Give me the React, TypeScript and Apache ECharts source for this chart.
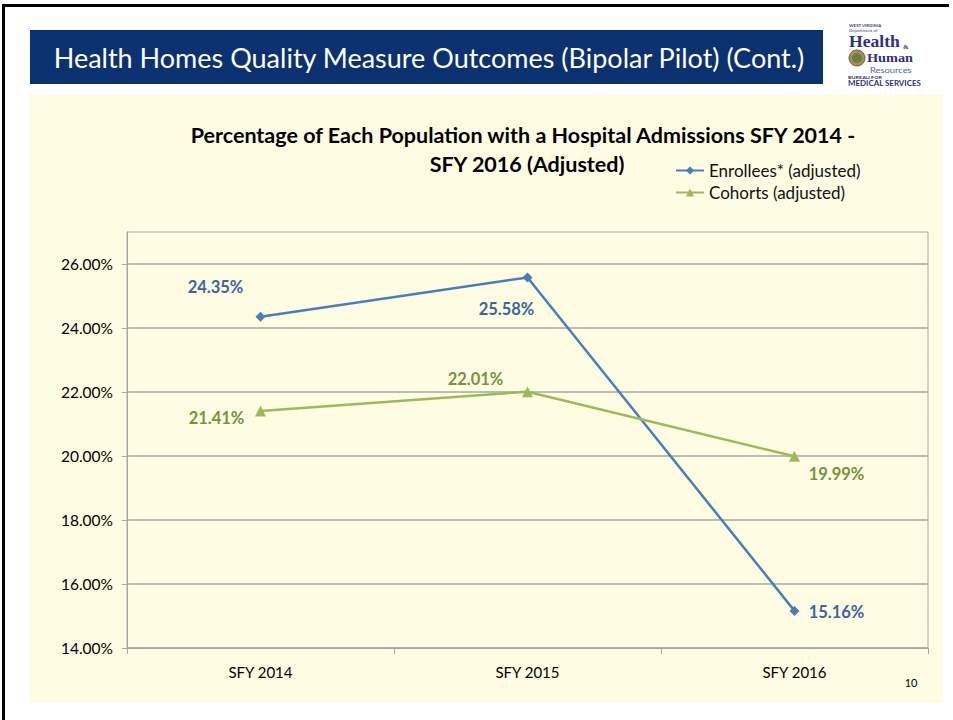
import React, { useEffect, useRef } from "react";
import * as echarts from "echarts";

const categories = ["SFY 2014", "SFY 2015", "SFY 2016"];
const enrollees = [24.35, 25.58, 15.16];
const cohorts = [21.41, 22.01, 19.99];
const seriesNames = ["Enrollees* (adjusted)", "Cohorts (adjusted)"];
const yTicks = [14, 16, 18, 20, 22, 24, 26];
const slideTitle = "Health Homes Quality Measure Outcomes (Bipolar Pilot) (Cont.)";
const chartTitleLines = [
  "Percentage of Each Population with a Hospital Admissions SFY 2014 -",
  "SFY 2016 (Adjusted)",
];
const pageNumber = "10";

const FONT = "Lato, 'Noto Sans', sans-serif";
const SERIF = "'Liberation Serif', 'DejaVu Serif', serif";

export default function App() {
  const ref = useRef<HTMLDivElement>(null);

  useEffect(() => {
    if (!ref.current) return;
    const chart = echarts.init(ref.current, undefined, { renderer: "svg" });

    const blueLine = "#4A7EBB";
    const blueLabel = "#3A65A0";
    const greenLine = "#9BBB59";
    const greenLabel = "#77933C";
    const grid = "#A6A6A6";
    const navy = "#2E3180";

    const enrOffsets = [[-45, -30], [-21, 32], [42, 1]];
    const cohOffsets = [[-44, 7], [-52, -13], [42, 18]];

    const logoLine = (text: string, x: number, y: number, font: string, fill: string, scaleX = 1) => ({
      type: "text",
      x,
      y,
      scaleX,
      z: 2,
      style: { text, fill, font, textVerticalAlign: "middle" },
    });

    const option: any = {
      animation: false,
      backgroundColor: "#ffffff",
      textStyle: { fontFamily: FONT },
      graphic: [
        // page frame
        { type: "rect", shape: { x: 2, y: 4, width: 947, height: 3 }, style: { fill: "#000" }, z: 0 },
        { type: "rect", shape: { x: 2, y: 4, width: 3, height: 716 }, style: { fill: "#000" }, z: 0 },
        // yellow panel
        { type: "rect", shape: { x: 30, y: 95, width: 913, height: 608 }, style: { fill: "#FEFDE3" }, z: -10 },
        // banner
        { type: "rect", shape: { x: 30, y: 30, width: 793, height: 54 }, style: { fill: "#0C3170" }, z: 0 },
        {
          type: "text", x: 429, y: 57, z: 1,
          style: { text: slideTitle, fill: "#ffffff", font: `27px ${FONT}`, textAlign: "center", textVerticalAlign: "middle" },
        },
        // logo seal
        { type: "circle", shape: { cx: 857, cy: 58, r: 8 }, style: { fill: "#A88E55", stroke: "#7a6638", lineWidth: 1 } },
        { type: "circle", shape: { cx: 857, cy: 58, r: 5 }, style: { fill: "#6B7F45" } },
        // logo text
        logoLine("WEST VIRGINIA", 849, 26, `bold 4px ${FONT}`, "#3b3f85", 1.1),
        logoLine("Department of", 849, 30.8, `4px ${FONT}`, "#3b3f85", 1.1),
        logoLine("Health", 849, 41.9, `bold 16px ${SERIF}`, navy, 1.1),
        { type: "text", x: 903, y: 47, z: 2, style: { text: "&", fill: navy, font: `bold 7px ${SERIF}`, textVerticalAlign: "middle" } },
        logoLine("Human", 867, 58, `bold 13px ${SERIF}`, navy, 1.1),
        logoLine("Resources", 870, 69.9, `7.5px ${FONT}`, "#5A5FA8", 1.25),
        logoLine("BUREAU FOR", 848, 77.1, `bold 4.5px ${FONT}`, navy, 1.2),
        logoLine("MEDICAL SERVICES", 848, 83.7, `bold 6.5px ${FONT}`, navy, 1.22),
        // chart title
        {
          type: "text", x: 523, y: 135,
          style: { text: chartTitleLines[0], fill: "#000", font: `bold 21.5px ${FONT}`, textAlign: "center", textVerticalAlign: "middle" },
        },
        {
          type: "text", x: 527, y: 164,
          style: { text: chartTitleLines[1], fill: "#000", font: `bold 21.5px ${FONT}`, textAlign: "center", textVerticalAlign: "middle" },
        },
        // page number
        {
          type: "text", x: 911, y: 682,
          style: { text: pageNumber, fill: "#000", font: `11px ${FONT}`, textAlign: "center", textVerticalAlign: "middle" },
        },
      ],
      legend: {
        left: 670,
        top: 157,
        orient: "vertical",
        itemWidth: 28,
        itemHeight: 10,
        itemGap: 5,
        textStyle: { fontFamily: FONT, fontSize: 17, color: "#111" },
        data: seriesNames,
      },
      grid: {
        left: 127,
        right: 25,
        top: 232,
        bottom: 72,
        show: true,
        borderColor: grid,
        borderWidth: 1,
        backgroundColor: "transparent",
      },
      xAxis: {
        type: "category",
        data: categories,
        boundaryGap: true,
        axisLine: { show: true, lineStyle: { color: grid, width: 1 } },
        axisTick: { show: true, interval: 0, length: 6, lineStyle: { color: grid } },
        axisLabel: { color: "#000", fontSize: 15, fontFamily: FONT, margin: 16 },
        splitLine: { show: false },
      },
      yAxis: {
        type: "value",
        min: 14,
        max: 27,
        interval: 2,
        axisLine: { show: true, lineStyle: { color: grid, width: 1 } },
        axisTick: { show: true, length: 5, lineStyle: { color: grid }, customValues: yTicks },
        axisLabel: {
          color: "#000",
          fontSize: 15.5,
          fontFamily: FONT,
          margin: 14,
          showMaxLabel: false,
          formatter: (v: number) => (yTicks.includes(v) ? v.toFixed(2) + "%" : ""),
        },
        splitLine: { show: true, lineStyle: { color: grid, width: 1.5 } },
      },
      series: [
        {
          name: seriesNames[0],
          type: "line",
          data: enrollees.map((v, i) => ({ value: v, label: { offset: enrOffsets[i] } })),
          symbol: "diamond",
          symbolSize: 10,
          lineStyle: { color: blueLine, width: 2.5 },
          itemStyle: { color: blueLine },
          label: {
            show: true,
            position: "inside",
            color: blueLabel,
            fontFamily: FONT,
            fontWeight: "bold",
            fontSize: 16.5,
            formatter: (p: any) => Number(p.value).toFixed(2) + "%",
          },
        },
        {
          name: seriesNames[1],
          type: "line",
          data: cohorts.map((v, i) => ({ value: v, label: { offset: cohOffsets[i] } })),
          symbol: "triangle",
          symbolSize: 11,
          lineStyle: { color: greenLine, width: 2.5 },
          itemStyle: { color: greenLine },
          label: {
            show: true,
            position: "inside",
            color: greenLabel,
            fontFamily: FONT,
            fontWeight: "bold",
            fontSize: 16.5,
            formatter: (p: any) => Number(p.value).toFixed(2) + "%",
          },
        },
      ],
    };

    chart.setOption(option);
    return () => chart.dispose();
  }, []);

  return (
    <div
      ref={ref}
      style={{ position: "absolute", left: 0, top: 0, width: 953, height: 720 }}
    />
  );
}
